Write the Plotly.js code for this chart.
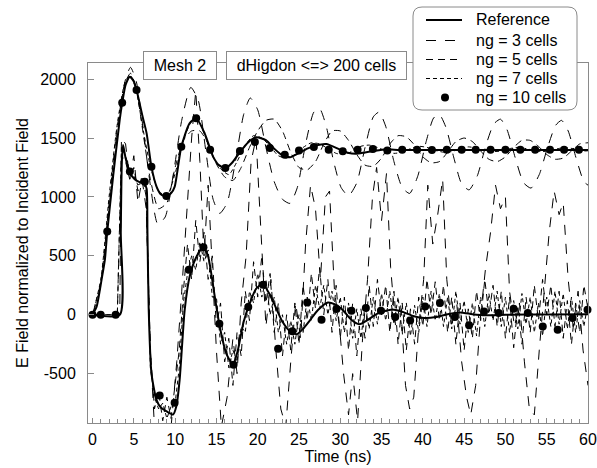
<!DOCTYPE html>
<html>
<head>
<meta charset="utf-8">
<script src="https://cdn.plot.ly/plotly-3.0.1.min.js"></script>
<style>
  html, body { margin: 0; padding: 0; background: #ffffff; }
  #chart { width: 597px; height: 468px; }
</style>
</head>
<body>
<div id="chart"></div>
<script>
// ---- Reference solution (solid) ----
const refUpperT = [0,0.5,1.1,1.5,1.78,2.5,3.3,3.6,4.0,4.5,5.0,5.33,6.0,6.55,7.13,7.75,8.3,8.9,9.5,9.95,10.75,11.75,12.55,13.58,14.6,15.3,16.1,16.9,17.8,18.8,19.8,21.0,22.0,23.0,24.0,25.0,26.0,26.9,28.3,29.9,30.9,31.9,33.0,33.9,35.5,37.2,40,45,50,55,60];
const refUpperV = [0,70,300,470,706,1180,1660,1800,1950,2020,1980,1907,1700,1540,1257,1088,1020,1003,1030,1088,1426,1625,1667,1540,1342,1270,1243,1290,1375,1460,1506,1483,1410,1352,1338,1372,1410,1433,1449,1404,1375,1366,1378,1388,1405,1398,1398,1398,1398,1398,1398];

const refLowerT = [0,3.3,3.42,3.55,3.7,4.0,4.5,5.1,5.7,6.3,6.55,6.65,6.8,7.13,7.73,8.3,8.94,9.75,10.15,10.55,11.16,11.76,12.5,13.4,14.0,14.8,15.4,16.2,17.0,17.6,18.3,19.0,19.8,20.6,21.4,22.2,23.0,23.9,24.7,25.5,26.3,27.3,28.5,29.3,30.3,31.3,32.3,33.3,34.5,36.3,37.5,38.8,40.2,41.6,43.0,44.5,46.0,47.5,50,55,60];
const refLowerV = [0,0,700,1300,1441,1330,1210,1150,1125,1110,1070,700,50,-494,-720,-790,-819,-847,-777,-551,42,325,480,578,494,155,-100,-330,-424,-300,-60,90,220,262,180,60,-60,-140,-165,-120,-50,40,104,90,40,-40,-80,-45,10,45,25,-10,-28,-20,5,20,5,-5,0,3,5];

// ---- ng = 3 cells (long dash) ----
const ng3UpperT = [0,1,2,3,4,4.6,5.3,6,7,7.9,8.8,9.8,10.8,11.9,12.8,13.7,14.6,15.4,16.3,17.3,18.3,19.1,20,21,22,23,23.9,24.8,25.8,26.8,27.5,28.3,29.2,30.1,31,32,33,34,34.7,35.5,36.5,37.5,38.4,39.4,40.4,41.3,42,42.8,43.8,44.7,45.6,46.6,47.6,48.6,49.4,50.2,51.2,52.2,53.1,54.1,55.1,56.1,56.8,57.6,58.6,59.5,60];
const ng3UpperV = [0,250,900,1550,2000,2100,1980,1650,1100,770,830,1200,1650,1930,1820,1400,980,860,950,1300,1700,1840,1740,1420,1130,980,945,1080,1450,1720,1750,1600,1300,1080,1010,1120,1420,1680,1720,1600,1300,1080,1030,1180,1470,1670,1700,1590,1320,1110,1060,1180,1430,1620,1660,1570,1330,1120,1075,1190,1420,1610,1650,1560,1320,1130,1100];

const ng3LowerT = [0,3.3,3.5,4,4.5,5,5.5,6,6.5,7,7.5,8.5,9.5,10.2,10.8,11.4,12,12.5,13,13.5,14,14.5,15,15.6,16.3,17,17.5,18,18.6,19.2,19.8,20.4,21,21.6,22.2,22.8,23.4,24,24.6,25.2,25.8,26.4,27,27.6,28.2,28.7,29.3,29.9,30.4,31,31.5,32.1,32.7,33.3,33.9,34.4,35,35.6,36.1,36.7,37.3,37.9,38.4,38.9,39.5,40.1,40.6,41.2,41.8,42.4,42.9,43.5,44.1,44.7,45.3,45.8,46.4,47,47.6,48.2,48.8,49.4,50,50.5,51.1,51.7,52.3,52.9,53.5,54.1,54.7,55.3,55.9,56.5,57,57.6,58.2,58.8,59.4,60];
const ng3LowerV = [0,0,1500,1450,1150,1350,950,1150,900,-300,-950,-980,-960,-400,200,900,1500,1900,1300,500,1100,400,-300,-950,-700,-200,-500,100,500,1300,1500,700,-100,300,-300,-800,-950,-400,100,-200,600,1100,900,300,1000,1050,200,-100,-500,-850,-500,-900,-200,300,1000,1250,800,1200,400,-100,100,-600,-800,-700,-100,300,1100,600,850,1150,300,-100,100,-400,-700,-850,-600,0,400,700,1100,900,1000,200,-100,100,-400,-800,-850,-300,200,700,1050,850,950,300,-100,200,-300,-600];

// ---- ng = 5 cells (medium dash) ----
const ng5UpperT = [0,1,2,3,4,4.6,5.3,6,7,8,9,10,11,12,13,14,15,16,17,18,19,20,21,22,23,24,25,26,27,28,29,30,31,32,33,34,35,36,37,38,39,40,41,42,43,44,45,46,47,48,49,50,51,52,53,54,55,56,57,58,59,60];
const ng5UpperV = [0,280,950,1600,1980,2050,1920,1600,1150,900,950,1250,1480,1560,1560,1450,1280,1170,1140,1250,1420,1560,1650,1660,1560,1380,1250,1230,1300,1450,1560,1560,1480,1360,1270,1260,1330,1450,1520,1510,1440,1340,1290,1300,1380,1470,1500,1470,1390,1320,1300,1340,1420,1480,1480,1430,1360,1320,1330,1390,1450,1460];

// lower branch sampled every 0.5 ns from 0 to 60 ns
const ng5LowerV = [0,0,0,0,0,0,0,
  1350,1300,1150,1250,1050,1180,1000,-300,
  -800,-650,-900,-700,-880,-600,
  -300,200,600,300,800,450,700,300,500,-100,
  100,-400,-200,-600,-150,-350,200,-50,450,150,
  500,100,350,-150,100,-350,0,-300,100,-250,
  250,-50,350,50,400,0,300,-150,250,-200,
  150,-300,100,-350,50,-200,250,-100,300,0,
  250,-150,200,-250,100,-300,50,-250,150,-100,
  300,0,280,-50,250,-150,150,-250,100,-300,
  50,-200,200,-50,300,0,250,-100,200,-200,
  150,-280,80,-250,150,-150,250,-50,300,0,
  250,-100,200,-200,120,-250,100,-150,250,50];

// ---- ng = 7 cells (short dash) ----
const ng7UpperT = [0,1,2,3,4,4.6,5.3,6,7,8,9,10,11,12,12.8,13.6,14.5,15.5,16.5,17.5,18.5,19.5,20.5,21.5,22.5,23.5,24.5,25.5,26.5,27.5,28.5,29.5,30.5,31.5,32.5,33.5,34.5,35.5,36.5,37.5,38.5,39.5,40.5,41.5,42.5,43.5,44.5,45.5,46.5,47.5,48.5,49.5,50.5,51.5,52.5,53.5,54.5,55.5,56.5,57.5,58.5,59.5,60];
const ng7UpperV = [0,300,1000,1620,1990,2030,1900,1620,1260,1050,1010,1200,1480,1640,1650,1520,1350,1240,1190,1300,1440,1520,1500,1430,1350,1330,1360,1420,1460,1450,1410,1370,1360,1390,1430,1440,1420,1390,1370,1380,1410,1430,1420,1395,1380,1385,1410,1425,1415,1395,1385,1390,1410,1420,1410,1395,1385,1395,1412,1418,1405,1390,1392];

const ng7LowerV = [0,0,0,0,0,0,0,
  1420,1350,1220,1180,1100,1150,1050,-450,
  -700,-800,-750,-880,-780,-750,
  -450,100,350,500,380,620,450,550,150,150,
  -250,-150,-450,-300,-400,-100,-150,200,100,350,
  150,300,0,150,-150,0,-250,-50,-250,0,
  -150,150,-50,250,50,250,0,200,-50,150,
  -150,100,-200,50,-200,80,-120,150,-80,180,
  -50,200,-80,150,-150,100,-180,80,-150,150,
  -100,200,-50,180,-100,150,-120,200,-80,120,
  -150,100,-180,150,-100,180,-50,200,-100,150,
  -150,120,-120,180,-80,150,-150,100,-180,150,
  -100,200,-80,180,-120,150,-150,120,-100,100];

// ---- ng = 10 cells (dots) ----
const ng10UpperT = [0,1.78,3.59,5.33,7.13,8.94,10.75,12.55,14.24,16.08,17.85,19.66,21.47,23.28,25.0,26.8,28.6,30.3,32.1,33.95,35.7,37.5,39.3,41.1,42.9,44.7,46.4,48.2,50.0,51.8,53.6,55.4,57.1,58.9];
const ng10UpperV = [0,706,1799,1907,1257,1008,1426,1667,1400,1245,1390,1466,1415,1358,1395,1424,1400,1387,1400,1407,1395,1400,1400,1398,1400,1400,1400,1400,1400,1400,1400,1400,1400,1400];
const ng10LowerT = [0.99,2.8,4.52,6.33,8.13,9.94,11.66,13.43,15.36,17.08,18.86,20.66,22.47,24.19,26.0,27.73,29.54,31.35,33.1,34.92,36.65,38.46,40.27,42.07,43.88,45.6,47.41,49.18,50.99,52.71,54.52,56.33,58.13,59.94];
const ng10LowerV = [0,0,1215,1130,-686,-748,381,573,-76,-424,65,254,-288,-141,104,-42,48,34,57,34,-20,-48,70,99,-20,-90,28,14,51,14,-99,-127,-28,42];

// ---- axes and labels ----
const xTickVals = [0,5,10,15,20,25,30,35,40,45,50,55,60];
const yTickVals = [-500,0,500,1000,1500,2000];
const legendLabels = ['Reference','ng = 3 cells','ng = 5 cells','ng = 7 cells','ng = 10 cells'];
const boxLabels = ['Mesh 2','dHigdon <=> 200 cells'];

// sample times for the evenly sampled branches (0, 0.5, ... 60 ns)
const halfStepT = ng5LowerV.map((_, i) => i * 0.5);

// ---- page geometry ----
const W = 597, H = 468;
const M = {l: 88, r: 9, t: 63, b: 45};
const PW = W - M.l - M.r, PH = H - M.t - M.b;
const fx = px => (px - M.l) / PW;
const fy = py => (H - M.b - py) / PH;

const FONT = '"Liberation Sans", Arial, Helvetica, sans-serif';
const FRAME = '#8a8a8a';
const DASH3 = '10px,9px', DASH5 = '7px,5px', DASH7 = '4px,3px';

function lineTrace(x, y, dash, width, shape) {
  return {
    type: 'scatter', mode: 'lines', x: x, y: y, showlegend: false, hoverinfo: 'skip',
    line: {color: '#000', width: width, dash: dash, shape: shape || 'linear', smoothing: 0.6}
  };
}
function dotTrace(x, y) {
  return {
    type: 'scatter', mode: 'markers', x: x, y: y, showlegend: false, hoverinfo: 'skip',
    cliponaxis: false, marker: {color: '#000', size: 8}
  };
}

const traces = [
  lineTrace(ng3UpperT, ng3UpperV, DASH3, 1, 'spline'),
  lineTrace(ng3LowerT, ng3LowerV, DASH3, 1),
  lineTrace(ng5UpperT, ng5UpperV, DASH5, 1, 'spline'),
  lineTrace(halfStepT, ng5LowerV, DASH5, 1),
  lineTrace(ng7UpperT, ng7UpperV, DASH7, 1, 'spline'),
  lineTrace(halfStepT, ng7LowerV, DASH7, 1),
  lineTrace(refUpperT, refUpperV, 'solid', 2, 'spline'),
  lineTrace(refLowerT, refLowerV, 'solid', 2, 'spline'),
  dotTrace(ng10UpperT, ng10UpperV),
  dotTrace(ng10LowerT, ng10LowerV)
];

// ---- legend panel (rounded box, samples, labels) ----
const LB = {l: 413, r: 577, t: 7, b: 110, rad: 9};
const rx = LB.rad / PW, ry = LB.rad / PH;
const xl = fx(LB.l), xr = fx(LB.r), yt = fy(LB.t), yb = fy(LB.b);
const boxPath = `M ${xl + rx} ${yt} L ${xr - rx} ${yt} Q ${xr} ${yt} ${xr} ${yt - ry} ` +
  `L ${xr} ${yb + ry} Q ${xr} ${yb} ${xr - rx} ${yb} L ${xl + rx} ${yb} ` +
  `Q ${xl} ${yb} ${xl} ${yb + ry} L ${xl} ${yt - ry} Q ${xl} ${yt} ${xl + rx} ${yt} Z`;

const rowY = [20, 40.5, 59.5, 78.5, 97.5];
const sampleX0 = 426, sampleX1 = 462, textX = 474;
const sampleDash = ['solid', DASH3, DASH5, DASH7];
const sampleWidth = [2, 1, 1, 1];

const shapes = [{
  type: 'path', xref: 'paper', yref: 'paper', path: boxPath, layer: 'above',
  fillcolor: '#fff', line: {color: FRAME, width: 1}
}];
sampleDash.forEach((d, i) => {
  shapes.push({
    type: 'line', xref: 'paper', yref: 'paper', layer: 'above',
    x0: fx(sampleX0), x1: fx(sampleX1), y0: fy(rowY[i]), y1: fy(rowY[i]),
    line: {color: '#000', width: sampleWidth[i], dash: d}
  });
});
shapes.push({
  type: 'circle', xref: 'paper', yref: 'paper', layer: 'above',
  x0: fx(445 - 4), x1: fx(445 + 4), y0: fy(rowY[4] + 4), y1: fy(rowY[4] - 4),
  fillcolor: '#000', line: {color: '#000', width: 0}
});

const annotations = legendLabels.map((t, i) => ({
  text: t, xref: 'paper', yref: 'paper', x: fx(textX), y: fy(rowY[i]),
  xanchor: 'left', yanchor: 'middle', showarrow: false,
  font: {family: FONT, size: 16, color: '#000'}
}));

// labelled boxes sitting on the top frame
const boxes = [{cx: 180, w: 74}, {cx: 316.5, w: 181}];
boxes.forEach((b, i) => {
  annotations.push({
    text: boxLabels[i], xref: 'paper', yref: 'paper', x: fx(b.cx), y: fy(65.5),
    xanchor: 'center', yanchor: 'middle', showarrow: false,
    width: b.w - 4, height: 25, borderpad: 1, borderwidth: 1,
    bordercolor: FRAME, bgcolor: '#fff',
    font: {family: FONT, size: 16, color: '#000'}
  });
});

const layout = {
  width: W, height: H,
  margin: M,
  paper_bgcolor: '#fff', plot_bgcolor: '#fff',
  font: {family: FONT, size: 16, color: '#000'},
  showlegend: false,
  xaxis: {
    range: [-0.55, 60.0], showgrid: false, zeroline: false,
    showline: true, mirror: true, linecolor: FRAME, linewidth: 1,
    tickmode: 'array', tickvals: xTickVals, ticktext: xTickVals.map(String),
    ticks: 'inside', ticklen: 5, tickcolor: FRAME, tickwidth: 1,
    minor: {dtick: 1, ticks: 'inside', ticklen: 4, tickcolor: FRAME, tickwidth: 1},
    ticklabelstandoff: 2,
    ticklabeloverflow: 'allow',
    tickfont: {family: FONT, size: 16, color: '#000'},
    title: {text: 'Time (ns)', font: {family: FONT, size: 16, color: '#000'}, standoff: 0},
    automargin: false
  },
  yaxis: {
    range: [-919, 2137], showgrid: false, zeroline: false,
    showline: true, mirror: true, linecolor: FRAME, linewidth: 1,
    tickmode: 'array', tickvals: yTickVals, ticktext: yTickVals.map(String),
    ticks: 'inside', ticklen: 6, tickcolor: FRAME, tickwidth: 1,
    ticklabelstandoff: 8,
    tickfont: {family: FONT, size: 16, color: '#000'},
    title: {text: 'E Field normalized to Incident Field', font: {family: FONT, size: 16, color: '#000'}, standoff: 7},
    automargin: false
  },
  shapes: shapes,
  annotations: annotations
};

Plotly.newPlot('chart', traces, layout, {displayModeBar: false, staticPlot: true});
</script>
</body>
</html>
